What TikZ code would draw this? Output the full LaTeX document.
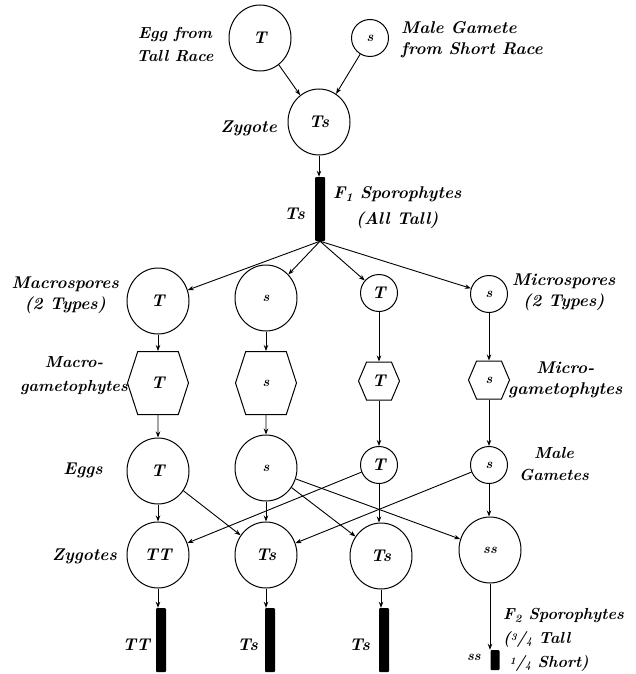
\documentclass[tikz,border=0pt]{standalone}
\usepackage{fontspec}
\usetikzlibrary{arrows.meta,shapes.geometric,shapes.symbols,positioning}
\newcommand\slfrac[2]{\smash{\raisebox{.4ex}{\fontsize{10}{10}\selectfont#1}}/\smash{\raisebox{-.1ex}{\fontsize{10}{10}\selectfont#2}}}
\begin{document}
\begin{tikzpicture}[x=1pt,y=-1pt,
  lbl/.style={font=\bfseries\itshape\fontsize{17}{21}\selectfont,inner sep=0pt,align=center},
  stxt/.style={font=\bfseries\itshape\fontsize{14}{16}\selectfont},
  cellbig/.style={ellipse,draw,line width=1pt,minimum width=62pt,minimum height=66pt,inner sep=0pt,
    font=\bfseries\itshape\fontsize{17}{20}\selectfont},
  cellsmall/.style={circle,draw,line width=1pt,minimum size=37pt,inner sep=0pt,
    font=\bfseries\itshape\fontsize{17}{20}\selectfont},
  hexbig/.style={signal,signal to=east and west,draw,line width=1pt,signal pointer angle=144,
    minimum width=61pt,minimum height=63pt,inner sep=0pt,font=\bfseries\itshape\fontsize{17}{20}\selectfont},
  hexsmall/.style={hexbig,signal pointer angle=134,minimum width=41pt,minimum height=38pt},
  sporobar/.style={fill=black,rounded corners=1pt,minimum width=10pt,minimum height=64pt,inner sep=0pt},
  arr/.style={-{Stealth[length=6pt,width=4.5pt]},line width=0.9pt}]
\useasboundingbox (0,0) rectangle (636,674);
\node[cellbig] (eggT) at (260,38) {T};
\node[cellsmall,stxt] (maleS) at (370,38) {s};
\node[cellbig] (zyg) at (319,122) {Ts};
\node[sporobar] (bar) at (320,209) {};
\draw[arr] (eggT) -- (zyg);
\draw[arr] (maleS) -- (zyg);
\draw[arr] (zyg) -- (zyg |- bar.north);
\node[lbl,font=\bfseries\itshape\fontsize{16}{23}\selectfont] (eggL) at (175,45) {Egg from\\Tall Race};
\node[lbl,anchor=west,align=left] (maleL) at (401,40) {Male Gamete\\from Short Race};
\node[lbl,anchor=east] (zygL) at (277,128) {Zygote};
\node[lbl,anchor=east] (barL) at (305,214) {Ts};
\node[lbl,anchor=west,font=\bfseries\itshape\fontsize{17}{26}\selectfont] (f1L) at (333,208) {F\textsubscript{1} Sporophytes\\(All Tall)};
\node[cellbig] (sp1) at (158,301) {T};
\node[cellbig,stxt] (sp2) at (266,298) {s};
\node[cellsmall] (sp3) at (379,293) {T};
\node[cellsmall,stxt] (sp4) at (489,294) {s};
\foreach \n in {sp1,sp2,sp3,sp4} \draw[arr] (bar.south) -- (\n);
\node[hexbig] (hx1) at (158,383) {T};
\node[hexbig,stxt] (hx2) at (266,383) {s};
\node[hexsmall] (hx3) at (379,381) {T};
\node[hexsmall,stxt] (hx4) at (489,380) {s};
\node[cellbig] (eg1) at (158,471) {T};
\node[cellbig,stxt] (eg2) at (266,468) {s};
\node[cellsmall] (eg3) at (379,465) {T};
\node[cellsmall,stxt] (eg4) at (489,465) {s};
\node[cellbig] (zy1) at (158,555) {TT};
\node[cellbig] (zy2) at (266,555) {Ts};
\node[cellbig] (zy3) at (381,556) {Ts};
\node[cellbig,stxt] (zy4) at (490,550) {ss};
\node[sporobar] (b1) at (161,640) {};
\node[sporobar] (b2) at (270,640) {};
\node[sporobar] (b3) at (384,640) {};
\node[sporobar,minimum width=9pt,minimum height=20pt] (b4) at (495,660) {};
\foreach \i in {1,...,4} {
  \draw[arr] (sp\i) -- (sp\i |- hx\i.north);
  \draw[arr] (hx\i) -- (hx\i |- eg\i.north);
  \draw[arr] (eg\i) -- (eg\i |- zy\i.north);
  \draw[arr] (zy\i) -- (zy\i |- b\i.north);
}
\draw[arr] (eg1) -- (zy2);
\draw[arr] (eg2) -- (zy3);
\draw[arr] (eg2) -- (zy4);
\draw[arr] (eg3) -- (zy1);
\draw[arr] (eg4) -- (zy2);
\node[lbl,anchor=east] (macL) at (119,295) {Macrospores\\(2 Types)};
\node[lbl,anchor=west] (micL) at (512,292) {Microspores\\(2 Types)};
\node[lbl,anchor=east,font=\bfseries\itshape\fontsize{16}{24}\selectfont] (mgL) at (128,376) {Macro-\\gametophytes};
\node[lbl,anchor=west] (migL) at (508,380) {Micro-\\gametophytes};
\node[lbl] (eggsL) at (83,470) {Eggs};
\node[lbl,font=\bfseries\itshape\fontsize{16}{22}\selectfont] (maleGL) at (554,464) {Male\\Gametes};
\node[lbl,anchor=east] (zygsL) at (117,556) {Zygotes};
\node[lbl,anchor=east] (b1L) at (150,645) {TT};
\node[lbl,anchor=east] (b2L) at (258,645) {Ts};
\node[lbl,anchor=east] (b3L) at (370,645) {Ts};
\node[lbl,anchor=east,stxt] (b4L) at (481,657) {ss};
\node[lbl,anchor=west,align=left,font=\bfseries\itshape\fontsize{16}{24}\selectfont] (f2L) at (503,640)
  {F\textsubscript{2} Sporophytes\\(\slfrac34 Tall\\\ \slfrac14 Short)};
\end{tikzpicture}
\end{document}
